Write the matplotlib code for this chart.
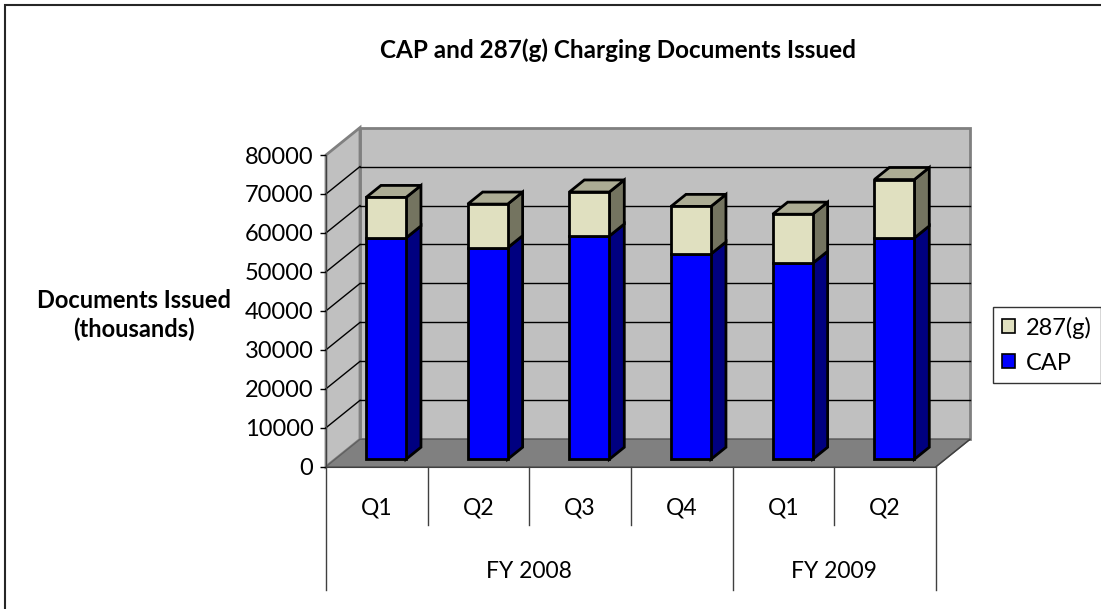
import matplotlib
matplotlib.use("Agg")
import matplotlib.pyplot as plt
from matplotlib.patches import Polygon, Rectangle, Patch
import numpy as np

# ---- data ----
quarters = ["Q1", "Q2", "Q3", "Q4", "Q1", "Q2"]
fiscal_years = ["FY 2008", "FY 2009"]
fy_spans = [(0, 4), (4, 6)]
cap = [56800, 54300, 57300, 52700, 50300, 56800]
g287 = [10400, 11200, 11300, 12200, 12600, 15000]
yticks = [0, 10000, 20000, 30000, 40000, 50000, 60000, 70000, 80000]

plt.rcParams['font.family'] = ['Lato', 'DejaVu Sans']

W, H = 1101, 609
fig = plt.figure(figsize=(W / 100, H / 100), dpi=100)
fig.patch.set_facecolor('white')

# outer chart border (left/top visible)
fig.add_artist(Rectangle((5 / W, -0.05), 1.2, 1 - 5 / H + 0.05, transform=fig.transFigure,
                         fill=False, edgecolor='#262626', linewidth=1.5))

# front plane of the 3D plot area
fx0, fx1, fy0, fytop = 326, 936, 466.7, 155.0
ax = fig.add_axes([fx0 / W, (H - fy0) / H, (fx1 - fx0) / W, (fy0 - fytop) / H])
n = len(quarters)
ymax = 80000
ax.set_xlim(0, n)
ax.set_ylim(0, ymax)
ax.patch.set_visible(False)

# depth offset (back plane) in data units
depth_px = (34.0, 27.4)
DX = depth_px[0] / ((fx1 - fx0) / n)
DY = depth_px[1] / ((fy0 - fytop) / ymax)

def P(x, y, d):
    return (x + d * DX, y + d * DY)

wall_c = '#C0C0C0'
floor_c = '#808080'
edge_c = '#808080'

# back wall
ax.add_patch(Polygon([P(0, 0, 1), P(n, 0, 1), P(n, ymax, 1), P(0, ymax, 1)], closed=True,
                     facecolor=wall_c, edgecolor=edge_c, linewidth=2, clip_on=False, zorder=1))
# left side wall
ax.add_patch(Polygon([P(0, 0, 0), P(0, 0, 1), P(0, ymax, 1), P(0, ymax, 0)], closed=True,
                     facecolor=wall_c, edgecolor=edge_c, linewidth=2, clip_on=False, zorder=1))
# floor
ax.add_patch(Polygon([P(0, 0, 0), P(n, 0, 0), P(n, 0, 1), P(0, 0, 1)], closed=True,
                     facecolor=floor_c, edgecolor='#606060', linewidth=1, clip_on=False, zorder=1.5))

# gridlines
for v in yticks[1:-1]:
    ax.plot([P(0, v, 1)[0], P(n, v, 1)[0]], [P(0, v, 1)[1], P(n, v, 1)[1]],
            color='black', linewidth=1, clip_on=False, zorder=2)
    ax.plot([P(0, v, 0)[0], P(0, v, 1)[0]], [P(0, v, 0)[1], P(0, v, 1)[1]],
            color='black', linewidth=1, clip_on=False, zorder=2)

# bars
d0, d1 = 0.27, 0.71
bw = 0.393
xc = np.arange(n) + 0.5
cap_a = np.array(cap)
g_a = np.array(g287)

series = [
    (np.zeros(n), cap_a, '#0000FF', '#000080', '#0000C0', 'CAP'),
    (cap_a, g_a, '#E0E0C0', '#747460', '#ACAC94', '287(g)'),
]
lw = 2.0
for k, (bot, hgt, fc, sc, tc, lab) in enumerate(series):
    for i in range(n):
        xl = xc[i] - bw / 2
        xr = xc[i] + bw / 2
        b = bot[i]
        t = bot[i] + hgt[i]
        ax.add_patch(Polygon([P(xr, b, d0), P(xr, b, d1), P(xr, t, d1), P(xr, t, d0)], closed=True,
                             facecolor=sc, edgecolor='black', linewidth=lw, clip_on=False,
                             zorder=3, joinstyle='miter'))
        if k == len(series) - 1:
            ax.add_patch(Polygon([P(xl, t, d0), P(xr, t, d0), P(xr, t, d1), P(xl, t, d1)], closed=True,
                                 facecolor=tc, edgecolor='black', linewidth=lw, clip_on=False,
                                 zorder=3, joinstyle='miter'))
    ax.bar(xc + d0 * DX, hgt, bottom=bot + d0 * DY, width=bw, color=fc, edgecolor='black',
           linewidth=lw, zorder=4, clip_on=False)

# right floor edge
ax.plot([P(n, 0, 0)[0], P(n, 0, 1)[0]], [0, P(n, 0, 1)[1]], color='#404040', linewidth=1,
        clip_on=False, zorder=2)

# axes styling
for s in ['top', 'right']:
    ax.spines[s].set_visible(False)
ax.spines['left'].set_color('#404040')
ax.spines['bottom'].set_color('#404040')
ax.spines['left'].set_zorder(5)
ax.spines['bottom'].set_zorder(5)
ax.set_yticks(yticks)
ax.set_yticklabels([str(v) for v in yticks])
ax.tick_params(axis='y', direction='out', length=4, width=1, pad=5, labelsize=17, colors='black')
ax.set_xticks([])

# category labels table
xt = ax.get_xaxis_transform()
row1 = -(524.6 - fy0) / (fy0 - fytop)
row2 = -(590.0 - fy0) / (fy0 - fytop)
lab1 = -(507.7 - fy0) / (fy0 - fytop)
lab2 = -(571.0 - fy0) / (fy0 - fytop)
outer = sorted(set([s for s, e in fy_spans] + [e for s, e in fy_spans]))
for xv in range(n + 1):
    yb = row2 if xv in outer else row1
    ax.plot([xv, xv], [0, yb], transform=xt, color='#404040', linewidth=1, clip_on=False)
for i, q in enumerate(quarters):
    ax.text(xc[i], lab1, q, transform=xt, ha='center', va='center', fontsize=16.5)
for (s, e), fy in zip(fy_spans, fiscal_years):
    ax.text((s + e) / 2, lab2, fy, transform=xt, ha='center', va='center', fontsize=16.5)

# titles
fig.text(618 / W, 1 - 50 / H, "CAP and 287(g) Charging Documents Issued", ha='center', va='center',
         fontsize=17.5, fontweight='bold')
fig.text(134 / W, 1 - 315 / H, "Documents Issued\n(thousands)", ha='center', va='center',
         fontsize=17, fontweight='bold', linespacing=1.3)

# legend
handles = [Patch(facecolor='#E0E0C0', edgecolor='black', linewidth=1.2, label='287(g)'),
           Patch(facecolor='#0000FF', edgecolor='black', linewidth=1.2, label='CAP')]
leg = fig.legend(handles=handles, loc='upper left', bbox_to_anchor=(993 / W, 1 - 307 / H),
                 fontsize=17, frameon=True, fancybox=False, handlelength=0.55, handleheight=0.55,
                 handletextpad=0.45, borderpad=0.4, labelspacing=0.6, borderaxespad=0)
leg.get_frame().set_edgecolor('black')
leg.get_frame().set_linewidth(1)

fig.savefig('out.png', dpi=100)
